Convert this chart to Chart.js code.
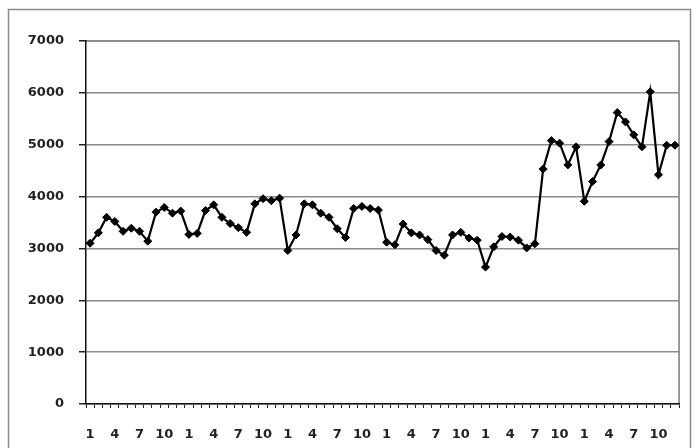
<!DOCTYPE html>
<html>
<head>
<meta charset="utf-8">
<script src="https://cdn.jsdelivr.net/npm/chart.js@4/dist/chart.umd.min.js"></script>
<style>
  html, body { margin: 0; padding: 0; background: #fff; }
  #wrap { width: 694px; height: 448px; position: relative; }
</style>
</head>
<body>
<div id="wrap"><canvas id="chartCanvas" width="694" height="448"></canvas></div>
<script>
"use strict";

// monthly values, one array per year
const months = ['1', '2', '3', '4', '5', '6', '7', '8', '9', '10', '11', '12'];
const year1 = [3100, 3300, 3600, 3520, 3330, 3390, 3330, 3140, 3700, 3790, 3680, 3720];
const year2 = [3270, 3290, 3730, 3840, 3600, 3480, 3400, 3310, 3860, 3960, 3920, 3970];
const year3 = [2960, 3260, 3860, 3840, 3680, 3600, 3380, 3210, 3770, 3810, 3770, 3740];
const year4 = [3120, 3070, 3470, 3300, 3260, 3170, 2960, 2870, 3260, 3310, 3200, 3160];
const year5 = [2640, 3030, 3230, 3220, 3160, 3010, 3090, 4530, 5080, 5030, 4610, 4960];
const year6 = [3910, 4290, 4610, 5060, 5620, 5440, 5190, 4960, 6020, 4420, 4990, 4990];
const yTicks = [0, 1000, 2000, 3000, 4000, 5000, 6000, 7000];

const years = [year1, year2, year3, year4, year5, year6];
const labels = [];
const values = [];
years.forEach(function (yr) {
    yr.forEach(function (v, m) {
        labels.push(months[m]);
        values.push(v);
    });
});

const tickFont = { family: "'DejaVu Sans', sans-serif", size: 13, weight: 'bold' };

// outer frame and plot area border
const frame = {
    id: 'frame',
    beforeDraw(chart) {
        const c = chart.ctx;
        const a = chart.chartArea;
        c.save();
        c.strokeStyle = '#8a8a8a';
        c.lineWidth = 1.5;
        c.strokeRect(8.5, 9.5, 682, 460);
        c.strokeStyle = '#7a7a7a';
        c.lineWidth = 1.5;
        c.beginPath();
        c.moveTo(a.left, a.top);
        c.lineTo(a.right, a.top);
        c.lineTo(a.right, a.bottom);
        c.stroke();
        c.restore();
    }
};

const ctx = document.getElementById('chartCanvas');

new Chart(ctx, {
    type: 'line',
    data: {
        labels: labels,
        datasets: [{
            data: values,
            borderColor: '#000',
            backgroundColor: '#000',
            borderWidth: 2.2,
            pointStyle: 'rectRot',
            pointRadius: 4,
            pointBorderWidth: 1,
            tension: 0
        }]
    },
    options: {
        responsive: false,
        animation: false,
        devicePixelRatio: 1,
        layout: { padding: { top: 41, right: 10, left: 0, bottom: 0 } },
        plugins: {
            legend: { display: false },
            tooltip: { enabled: false }
        },
        scales: {
            x: {
                offset: true,
                grid: {
                    offset: true,
                    drawOnChartArea: false,
                    drawTicks: true,
                    tickLength: 4,
                    tickColor: '#222'
                },
                border: { color: '#111', width: 1.5 },
                ticks: {
                    autoSkip: false,
                    maxRotation: 0,
                    minRotation: 0,
                    padding: 19,
                    color: '#222',
                    font: tickFont,
                    callback: function (value, index) {
                        return index % 3 === 0 ? labels[index] : '';
                    }
                },
                afterFit: function (scale) { scale.height = 44; }
            },
            y: {
                min: 0,
                max: 7000,
                afterBuildTicks: function (scale) {
                    scale.ticks = yTicks.map(function (v) { return { value: v }; });
                },
                grid: {
                    color: '#8c8c8c',
                    lineWidth: 1.5,
                    tickLength: 7,
                    tickColor: '#222'
                },
                border: { color: '#111', width: 1.5 },
                ticks: {
                    padding: 15,
                    color: '#222',
                    font: tickFont,
                    callback: function (value) { return String(value); }
                },
                afterFit: function (scale) { scale.width = 86; }
            }
        }
    },
    plugins: [frame]
});
</script>
</body>
</html>
